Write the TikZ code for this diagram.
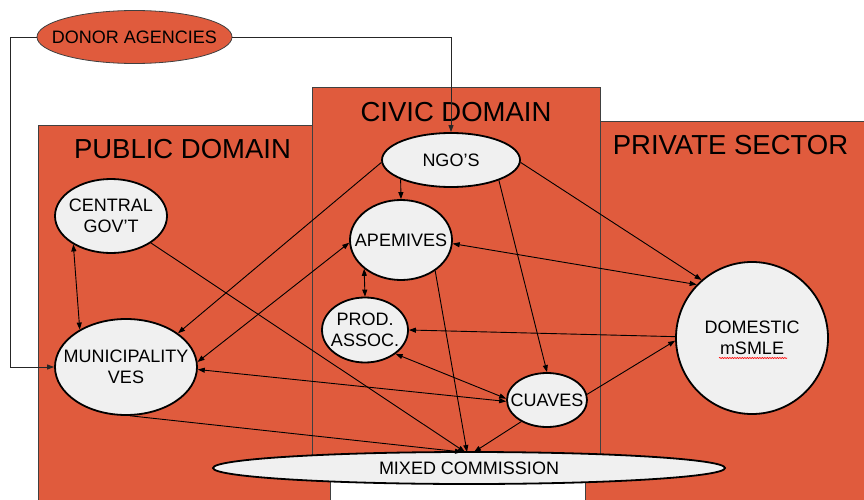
\documentclass[tikz,border=0pt]{standalone}
\usepackage{fontspec}
\setmainfont{Liberation Sans}
\usetikzlibrary{shapes.geometric,arrows.meta,decorations.pathmorphing}
\definecolor{dred}{HTML}{E05B3D}
\definecolor{nodegray}{HTML}{F0F0F0}
\begin{document}
\begin{tikzpicture}[x=1pt,y=-1pt,
  domainbox/.style={fill=dred, draw=black!75, line width=0.8pt},
  titletext/.style={font=\fontsize{27.5}{30}\selectfont, inner sep=0pt},
  nodetext/.style={font=\fontsize{18}{21}\selectfont, align=center, inner sep=0pt},
  actor/.style={ellipse, draw=black, line width=1.8pt, fill=nodegray, inner sep=0pt},
  link/.style={line width=0.9pt, -{Triangle[length=7pt,width=5pt]}},
  link2/.style={line width=0.9pt, {Triangle[length=7pt,width=5pt]}-{Triangle[length=7pt,width=5pt]}},
  plainline/.style={line width=0.9pt, draw=black!85}
]
\useasboundingbox (0,0) rectangle (864,500);
\fill[white] (0,0) rectangle (864,500);
% domains
\draw[domainbox] (38,125) rectangle (330,512);
\draw[domainbox] (585,121) rectangle (870,512);
\draw[domainbox] (312,87) rectangle (600,470);
\node[titletext] (tpub) at (182.5,149) {PUBLIC DOMAIN};
\node[titletext] (tciv) at (456,112.5) {CIVIC DOMAIN};
\node[titletext] (tpriv) at (730.5,145.5) {PRIVATE SECTOR};
% actors
\node[ellipse, fill=dred, draw=black!75, line width=0.8pt, inner sep=0pt, minimum width=195pt, minimum height=53pt,
  label={[nodetext]center:DONOR AGENCIES}] (donor) at (134.5,37) {};
\node[actor, minimum width=138pt, minimum height=54pt, label={[nodetext]center:NGO'S}] (ngo) at (451,160) {};
\node[actor, minimum width=102pt, minimum height=80pt, label={[nodetext]center:APEMIVES}] (apem) at (401,240) {};
\node[actor, minimum width=112pt, minimum height=74pt, label={[nodetext]center:CENTRAL\\GOV'T}] (cgov) at (111,216) {};
\node[actor, minimum width=142pt, minimum height=96pt, label={[nodetext]center:MUNICIPALITY\\VES}] (muni) at (126,367) {};
\node[actor, minimum width=86pt, minimum height=65pt, label={[nodetext]center:PROD.\\ASSOC.}] (prod) at (365,330) {};
\node[actor, minimum width=80pt, minimum height=54pt, label={[nodetext]center:CUAVES}] (cuaves) at (547,400) {};
\node[actor, minimum width=512pt, minimum height=32pt, label={[nodetext]center:MIXED COMMISSION}] (mixed) at (469,468) {};
\node[actor, circle, minimum size=152pt, label={[nodetext]center:DOMESTIC\\mSMLE}] (dom) at (752,338) {};
\draw[red, line width=0.6pt, decorate, decoration={snake,amplitude=0.6pt,segment length=2.5pt}] (719,358) -- (787,358);
% arrival points on the mixed commission
\coordinate (m1) at (462,452);
\coordinate (m2) at (465,452);
\coordinate (m3) at (467,452);
\coordinate (m4) at (474,452);
\coordinate (dl) at (10,37);
% connectors
\draw[link, plainline] (donor.east) -| (ngo.north);
\draw[link, plainline] (donor.west) -- (dl) |- (muni.west);
\draw[link] (ngo.201) -- (apem.north);
\draw[link] (ngo.182) -- (muni.33);
\draw[link2] (apem.183) -- (muni.4);
\draw[link2] (cgov.217) -- (muni.141);
\draw[link] (cgov.326) -- (m2);
\draw[link2] (apem.218) -- (prod.north);
\draw[link2] (apem.356) -- (dom.136);
\draw[link] (ngo.358) -- (dom.131);
\draw[link] (dom.179) -- (prod.0);
\draw[link] (cuaves.8) -- (dom.182);
\draw[link] (ngo.337) -- (cuaves.north);
\draw[link] (apem.318) -- (m3);
\draw[link2] (prod.322) -- (cuaves.178);
\draw[link2] (muni.358) -- (cuaves.182);
\draw[link] (muni.275) -- (m1);
\draw[link] (cuaves.220) -- (m4);
\end{tikzpicture}
\end{document}
